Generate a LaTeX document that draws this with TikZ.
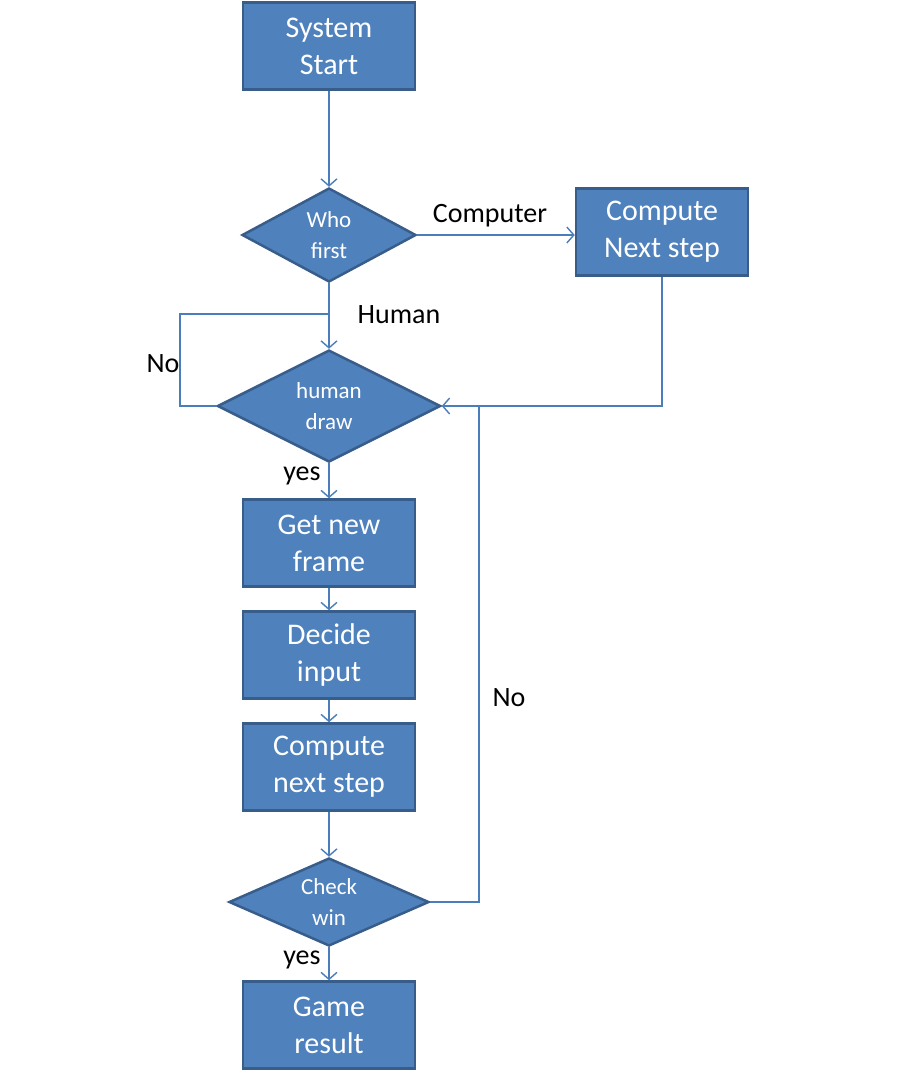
\documentclass[tikz,border=0pt]{standalone}
\usepackage{fontspec}
\setmainfont{Carlito}
\usetikzlibrary{shapes.geometric,arrows.meta}
\definecolor{boxfill}{HTML}{4F81BD}
\definecolor{boxedge}{HTML}{385D8A}
\definecolor{linecol}{HTML}{4A7EBB}
\tikzset{
  procbox/.style={draw=boxedge, fill=boxfill, line width=2.5pt, minimum width=172pt, minimum height=87pt, inner sep=0pt, align=center, text=white, font=\fontsize{30}{37}\selectfont},
  decbox/.style={diamond, draw=boxedge, fill=boxfill, line width=2.5pt, inner sep=0pt, align=center, text=white, font=\fontsize{23}{31}\selectfont},
  conn/.style={draw=linecol, line width=1.4pt},
  arr/.style={conn, -{Straight Barb[length=7pt,width=16pt,line width=1.4pt]}},
  lbl/.style={text=black, font=\fontsize{28}{30}\selectfont, inner sep=0pt}
}
\begin{document}
\begin{tikzpicture}[x=1pt,y=-1pt]
\useasboundingbox[fill=white] (0,0) rectangle (900,1080);
\node[procbox] (ss) at (329,46) {System\\Start};
\node[decbox, aspect=1.85, minimum width=174pt, minimum height=94pt] (wf) at (329,235) {Who\\first};
\node[procbox] (cns) at (662,232) {Compute\\Next step};
\node[decbox, aspect=2, minimum width=223pt, minimum height=112pt] (hd) at (329,406) {human\\draw};
\node[procbox] (gnf) at (329,543) {Get new\\frame};
\node[procbox] (di) at (329,655) {Decide\\input};
\node[procbox] (cnx) at (329,767) {Compute\\next step};
\node[decbox, aspect=2.27, minimum width=200pt, minimum height=88pt] (cw) at (329,902) {Check\\win};
\node[procbox] (gr) at (329,1025) {Game\\result};

\coordinate (j1) at (329,314);
\coordinate (lp) at (180,314);
\coordinate (j2) at (479,406);

\draw[arr] (ss.south) -- (wf.north);
\draw[arr] (wf.east) -- (wf.east -| cns.west);
\draw[arr] (wf.south) -- (hd.north);
\draw[conn] (hd.west) -| (lp) -- (j1);
\draw[arr] (cns.south) |- (hd.east);
\draw[conn] (cw.east) -| (j2);
\draw[arr] (hd.south) -- (gnf.north);
\draw[arr] (gnf.south) -- (di.north);
\draw[arr] (di.south) -- (cnx.north);
\draw[arr] (cnx.south) -- (cw.north);
\draw[arr] (cw.south) -- (gr.north);

\node[lbl] (lc) at (490,216) {Computer};
\node[lbl] (lh) at (399,315) {Human};
\node[lbl] (ln1) at (163,364) {No};
\node[lbl] (ly1) at (302,476) {yes};
\node[lbl] (ln2) at (509,698) {No};
\node[lbl] (ly2) at (302,960) {yes};
\end{tikzpicture}
\end{document}
